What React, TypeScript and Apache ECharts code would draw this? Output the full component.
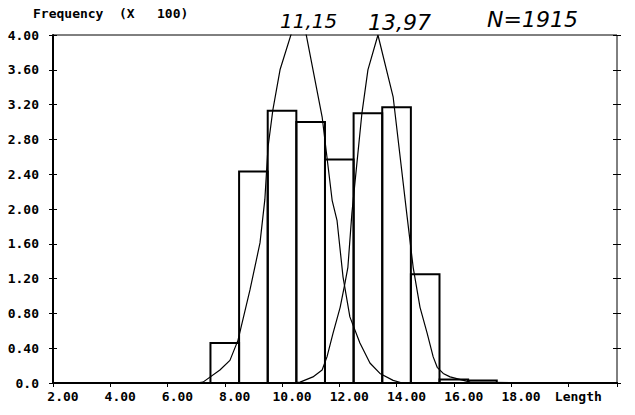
import React, { useEffect, useRef } from "react";
import * as echarts from "echarts";

// Histogram bins (centre of each 1-unit bin) and frequencies (x 100)
const binCenters = [8, 9, 10, 11, 12, 13, 14, 15, 16, 17];
const frequencies = [0.46, 2.43, 3.13, 3.0, 2.57, 3.1, 3.17, 1.25, 0.04, 0.03];
const binWidth = 1;

// Fitted curve 1 (mean annotated 11,15) as [length, frequency]
const curve1X = [7.0, 7.24, 7.83, 8.18, 8.46, 8.88, 9.23, 9.4, 9.51, 9.68, 9.93, 10.64, 11.4, 11.75, 11.92, 12.13, 12.37, 12.72, 13.07, 13.42, 13.88, 14.2];
const curve1Y = [0.0, 0.01, 0.15, 0.26, 0.49, 1.07, 1.61, 2.11, 2.71, 3.14, 3.6, 4.35, 3.06, 2.1, 1.87, 1.22, 0.76, 0.46, 0.23, 0.11, 0.03, 0.0];

// Fitted curve 2 (mean annotated 13,97)
const curve2X = [10.3, 10.63, 11.08, 11.4, 11.57, 11.78, 12.03, 12.2, 12.3, 12.44, 12.79, 13.0, 13.35, 13.88, 14.37, 14.58, 14.82, 15.07, 15.28, 15.42, 15.63, 15.87, 16.57, 19.9];
const curve2Y = [0.0, 0.01, 0.07, 0.15, 0.3, 0.57, 0.87, 1.15, 1.33, 1.95, 3.1, 3.6, 4.0, 3.29, 1.91, 1.33, 0.87, 0.57, 0.3, 0.18, 0.11, 0.07, 0.01, 0.0];

const xTickValues = [2, 4, 6, 8, 10, 12, 14, 16, 18];
const xEndLabel = "Length";
const annotations = ["11,15", "13,97", "N=1915"];

const FONT = "DejaVu Sans Mono";
const HAND = "DejaVu Sans";

export default function App() {
  const ref = useRef<HTMLDivElement>(null);
  useEffect(() => {
    if (!ref.current) return;
    const chart = echarts.init(ref.current, null, { renderer: "svg" });
    const labelStyle = { fontFamily: FONT, fontWeight: "bold" as const, fontSize: 13, color: "#000" };
    const yBase = { type: "value" as const, min: 0, max: 4, interval: 0.4, splitLine: { show: false } };
    chart.setOption({
      animation: false,
      backgroundColor: "#fff",
      grid: { left: 53, right: 18, top: 35, bottom: 32, show: true, borderColor: "#000", borderWidth: 1 },
      xAxis: [
        {
          type: "value",
          min: 2,
          max: 21.7,
          interval: 2,
          splitLine: { show: false },
          axisLine: { lineStyle: { color: "#000", width: 2 } },
          axisTick: { show: true, length: 4, lineStyle: { color: "#000", width: 1 } },
          axisLabel: {
            ...labelStyle,
            margin: 7,
            align: "center",
            padding: [0, 0, 0, 20],
            showMaxLabel: true,
            formatter: (v: number) => {
              if (Math.abs(v - 20) < 1e-6) return xEndLabel;
              if (xTickValues.some((t) => Math.abs(t - v) < 1e-6)) return v.toFixed(2);
              return "";
            },
          },
        },
        {
          type: "value",
          position: "top",
          min: 2,
          max: 21.7,
          interval: 2,
          splitLine: { show: false },
          axisLine: { lineStyle: { color: "#000", width: 2 } },
          axisTick: { show: false },
          axisLabel: { show: false },
        },
      ],
      yAxis: [
        {
          ...yBase,
          position: "left",
          axisLine: { show: true, lineStyle: { color: "#000", width: 2 } },
          axisTick: { show: true, length: 4, lineStyle: { color: "#000", width: 1 } },
          axisLabel: {
            ...labelStyle,
            margin: 14,
            formatter: (v: number) => (v === 0 ? "0.0" : v.toFixed(2)),
          },
        },
        {
          ...yBase,
          position: "left",
          axisLine: { show: false },
          axisTick: { show: true, inside: true, length: 4, lineStyle: { color: "#000", width: 1 } },
          axisLabel: { show: false },
        },
        {
          ...yBase,
          position: "right",
          axisLine: { show: false },
          axisTick: { show: true, length: 4, lineStyle: { color: "#000", width: 1 } },
          axisLabel: { show: false },
        },
        {
          ...yBase,
          position: "right",
          axisLine: { show: false },
          axisTick: { show: true, inside: true, length: 4, lineStyle: { color: "#000", width: 1 } },
          axisLabel: { show: false },
        },
      ],
      series: [
        {
          type: "custom",
          name: "Histogram",
          xAxisIndex: 0,
          yAxisIndex: 0,
          data: binCenters.map((c, i) => [c, frequencies[i]]),
          encode: { x: 0, y: 1 },
          renderItem: (params: any, api: any) => {
            const c = api.value(0);
            const v = api.value(1);
            const p0 = api.coord([c - binWidth / 2, 0]);
            const p1 = api.coord([c + binWidth / 2, v]);
            return {
              type: "rect",
              shape: { x: p0[0], y: p1[1], width: p1[0] - p0[0], height: p0[1] - p1[1] },
              style: { fill: "none", stroke: "#000", lineWidth: 2 },
            };
          },
        },
        {
          type: "line",
          name: "Fit 1",
          xAxisIndex: 0,
          yAxisIndex: 0,
          data: curve1X.map((x, i) => [x, curve1Y[i]]),
          symbol: "none",
          clip: true,
          lineStyle: { color: "#000", width: 1.2 },
        },
        {
          type: "line",
          name: "Fit 2",
          xAxisIndex: 0,
          yAxisIndex: 0,
          data: curve2X.map((x, i) => [x, curve2Y[i]]),
          symbol: "none",
          clip: true,
          lineStyle: { color: "#000", width: 1.2 },
        },
      ],
      graphic: [
        { type: "text", left: 33, top: 7, style: { text: "Frequency", font: `bold 13px "${FONT}"`, fill: "#000" } },
        { type: "text", left: 119, top: 7, style: { text: "(X", font: `bold 13px "${FONT}"`, fill: "#000" } },
        { type: "text", left: 157, top: 7, style: { text: "100)", font: `bold 13px "${FONT}"`, fill: "#000" } },
        { type: "text", left: 280, top: 11, style: { text: annotations[0], font: `italic 20px "${HAND}"`, fill: "#000" } },
        { type: "text", left: 368, top: 11, style: { text: annotations[1], font: `italic 22px "${HAND}"`, fill: "#000" } },
        { type: "text", left: 487, top: 8, style: { text: annotations[2], font: `italic 22px "${HAND}"`, fill: "#000" } },
      ],
    });
    return () => chart.dispose();
  }, []);
  return <div ref={ref} style={{ position: "fixed", left: 0, top: 0, width: 635, height: 415 }} />;
}
